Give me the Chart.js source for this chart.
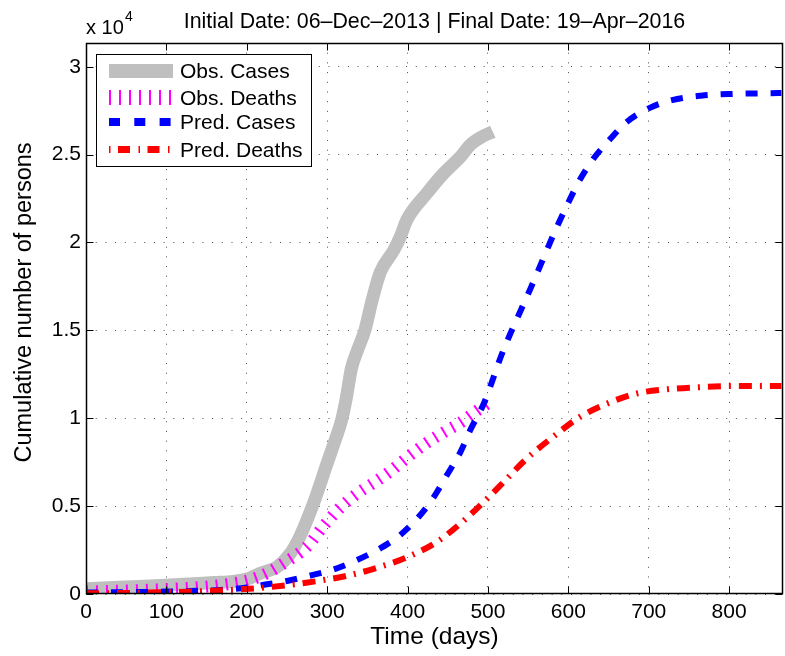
<!DOCTYPE html>
<html>
<head>
<meta charset="utf-8">
<script src="https://cdn.jsdelivr.net/npm/chart.js@4.4.1/dist/chart.umd.min.js"></script>
<style>
html, body { margin: 0; padding: 0; background: #ffffff; }
#wrap { width: 785px; height: 656px; }
</style>
</head>
<body>
<div id="wrap"><canvas id="c" width="785" height="656"></canvas></div>
<script>
// ---- data ----
const chartTitle = 'Initial Date: 06\u2013Dec\u20132013 | Final Date: 19\u2013Apr\u20132016';
const xAxisTitle = 'Time (days)';
const yAxisTitle = 'Cumulative number of persons';
const seriesNames = ['Obs. Cases', 'Obs. Deaths', 'Pred. Cases', 'Pred. Deaths'];
const xTickValues = [0, 100, 200, 300, 400, 500, 600, 700, 800];
const yTickValues = [0, 5000, 10000, 15000, 20000, 25000, 30000];

const obsCasesDays = [0, 40, 80, 121, 160, 183, 200, 217, 238, 254, 266, 283, 300, 310, 318, 324, 330, 338, 347, 356, 366, 383, 391, 399, 424, 445, 466, 478, 492, 506];
const obsCases     = [300, 380, 450, 550, 650, 720, 850, 1180, 1550, 2300, 3260, 5160, 7440, 8760, 9900, 11200, 12800, 13900, 15020, 16730, 18300, 19570, 20330, 21280, 22800, 23940, 24880, 25550, 26000, 26300];

const obsDeathsDays = [0, 50, 100, 150, 180, 204, 225, 246, 275, 296, 316, 337, 362, 379, 399, 424, 445, 466, 487, 503];
const obsDeaths     = [150, 200, 280, 420, 580, 800, 1180, 1750, 2700, 3900, 4900, 5700, 6450, 7000, 7750, 8600, 9200, 9750, 10450, 10950];

const predCasesDays = [0, 50, 88, 130, 167, 200, 225, 250, 271, 290, 308, 337, 366, 391, 414, 433, 449, 466, 478, 495, 505, 516, 528, 541, 553, 568, 584, 599, 613, 630, 651, 673, 700, 729, 765, 802, 848, 865];
const predCases     = [90, 100, 130, 170, 230, 370, 550, 740, 960, 1170, 1400, 1930, 2600, 3360, 4400, 5540, 6770, 8100, 9330, 10850, 12080, 13500, 14830, 16160, 17390, 19000, 20710, 22180, 23460, 24690, 25830, 26870, 27630, 28100, 28350, 28450, 28490, 28500];

const predDeathsDays = [0, 50, 96, 140, 175, 213, 254, 291, 329, 366, 401, 437, 466, 494, 520, 547, 584, 615, 649, 686, 723, 761, 802, 839, 865];
const predDeaths     = [40, 60, 100, 150, 220, 330, 520, 760, 1080, 1550, 2120, 2980, 4020, 5200, 6390, 7650, 9050, 10090, 10850, 11420, 11650, 11760, 11830, 11840, 11840];

// ---- helpers / styles ----
const FONT = '"Liberation Sans", Arial, Helvetica, sans-serif';
const toPoints = (xs, ys) => xs.map((x, i) => ({ x: x, y: ys[i] }));
const styles = [
  { color: '#bfbfbf', width: 13, dash: [] },
  { color: '#ff00ff', width: 12, dash: [2, 8] },
  { color: '#0000ff', width: 6, dash: [12, 13] },
  { color: '#ff0000', width: 6, dash: [13, 8, 2, 8] }
];
const seriesData = [
  toPoints(obsCasesDays, obsCases),
  toPoints(obsDeathsDays, obsDeaths),
  toPoints(predCasesDays, predCases),
  toPoints(predDeathsDays, predDeaths)
];

const datasets = seriesNames.map((name, i) => ({
  label: name,
  data: seriesData[i],
  borderColor: styles[i].color,
  borderWidth: styles[i].width,
  borderDash: styles[i].dash,
  borderCapStyle: 'butt',
  borderJoinStyle: i === 0 ? 'round' : 'miter',
  pointRadius: 0,
  fill: false,
  cubicInterpolationMode: 'monotone',
  clip: 0,
  order: 4 - i
}));

const Y_LABEL_SHIFT = 32;

// box, inward ticks, legend and exponent label (MATLAB look)
const matlabDecor = {
  id: 'matlabDecor',
  afterLayout(chart) {
    // the y label sits a little above the middle of the axes in the reference:
    // shift the y scale's box only while the axes are painted
    chart.scales.y.bottom -= Y_LABEL_SHIFT;
  },
  beforeDatasetsDraw(chart) {
    chart.scales.y.bottom += Y_LABEL_SHIFT;
  },
  afterDatasetsDraw(chart) {
    const { ctx, chartArea: a, scales: { x, y } } = chart;
    ctx.save();
    ctx.strokeStyle = '#000';
    ctx.lineWidth = 1;
    const L = Math.round(a.left) + 0.5, R = Math.round(a.right) - 0.5;
    const T = Math.round(a.top) + 0.5, B = Math.round(a.bottom) - 0.5;
    ctx.beginPath();
    xTickValues.forEach(v => {
      const px = Math.round(x.getPixelForValue(v)) + 0.5;
      ctx.moveTo(px, B); ctx.lineTo(px, B - 7);
      ctx.moveTo(px, T); ctx.lineTo(px, T + 7);
    });
    yTickValues.forEach(v => {
      const py = Math.round(y.getPixelForValue(v)) + 0.5;
      ctx.moveTo(L, py); ctx.lineTo(L + 7, py);
      ctx.moveTo(R, py); ctx.lineTo(R - 7, py);
    });
    ctx.stroke();
    ctx.lineWidth = 1.5;
    ctx.strokeRect(L, T, R - L, B - T);
    ctx.restore();
  },
  afterDraw(chart) {
    const { ctx } = chart;
    ctx.save();
    // legend box
    const bx = 96.5, by = 54.5, bw = 215, bh = 112;
    ctx.fillStyle = '#fff';
    ctx.fillRect(bx, by, bw, bh);
    ctx.strokeStyle = '#000';
    ctx.lineWidth = 1;
    ctx.strokeRect(bx, by, bw, bh);
    const rows = [71, 97.5, 122, 149.5];
    const sx0 = 109, sx1 = 173;
    ctx.font = '21px ' + FONT;
    ctx.textBaseline = 'middle';
    ctx.textAlign = 'left';
    seriesNames.forEach((name, i) => {
      const yy = rows[i];
      ctx.save();
      ctx.strokeStyle = styles[i].color;
      ctx.lineCap = 'butt';
      if (i === 0) { ctx.lineWidth = 14; ctx.setLineDash([]); }
      if (i === 1) { ctx.lineWidth = 15; ctx.setLineDash([2, 8]); }
      if (i === 2) { ctx.lineWidth = 8; ctx.setLineDash([11, 14.3]); }
      if (i === 3) { ctx.lineWidth = 7; ctx.setLineDash([12, 8.5, 1.5, 7.5]); ctx.lineDashOffset = 20.5; }
      ctx.beginPath();
      ctx.moveTo(sx0, yy); ctx.lineTo(sx1, yy);
      ctx.stroke();
      ctx.restore();
      ctx.fillStyle = '#000';
      ctx.fillText(name, 180, yy + 1.5);
    });
    // exponent label
    ctx.fillStyle = '#000';
    ctx.textBaseline = 'alphabetic';
    ctx.font = '20px ' + FONT;
    ctx.fillText('x 10', 86, 34);
    ctx.font = '14px ' + FONT;
    ctx.fillText('4', 125, 21);
    ctx.restore();
  }
};

new Chart(document.getElementById('c'), {
  type: 'line',
  data: { datasets: datasets },
  options: {
    responsive: false,
    animation: false,
    events: [],
    layout: { padding: { left: 0, right: 2, top: 0, bottom: 0 } },
    plugins: {
      legend: { display: false },
      tooltip: { enabled: false },
      title: {
        display: true,
        text: chartTitle,
        fullSize: false,
        color: '#000',
        font: { family: FONT, size: 21.4, weight: 'normal', lineHeight: 1.2 },
        padding: { top: 9, bottom: 8.3 }
      }
    },
    scales: {
      x: {
        type: 'linear',
        min: 0,
        max: 867,
        afterBuildTicks: s => { s.ticks = xTickValues.map(v => ({ value: v })); },
        afterFit: s => { s.height = 62; },
        ticks: {
          autoSkip: false, maxRotation: 0, color: '#000', padding: 6,
          font: { family: FONT, size: 21 },
          callback: v => String(v)
        },
        grid: { color: 'rgba(0,0,0,0.7)', lineWidth: 1, drawTicks: false },
        border: { display: false, dash: [1, 8.7] },
        title: {
          display: true, text: xAxisTitle, color: '#000',
          font: { family: FONT, size: 24.5, lineHeight: 1.2 },
          padding: { top: 0, bottom: 4 }
        }
      },
      y: {
        type: 'linear',
        min: 0,
        max: 31350,
        afterBuildTicks: s => { s.ticks = yTickValues.map(v => ({ value: v })); },
        afterFit: s => { s.width = 86; },
        ticks: {
          color: '#000', padding: 5,
          font: { family: FONT, size: 21 },
          callback: v => String(v / 10000)
        },
        grid: { color: 'rgba(0,0,0,0.7)', lineWidth: 1, drawTicks: false },
        border: { display: false, dash: [1, 8.7] },
        title: {
          display: true, text: yAxisTitle, color: '#000',
          font: { family: FONT, size: 23.5, lineHeight: 1.2 },
          padding: { top: 10, bottom: 0 }
        }
      }
    }
  },
  plugins: [matlabDecor]
});
</script>
</body>
</html>
